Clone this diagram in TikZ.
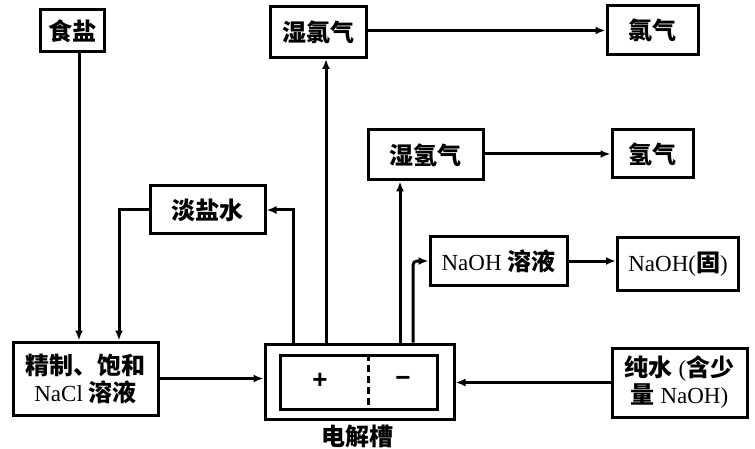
\documentclass[tikz,border=0pt]{standalone}
\usepackage{fontspec}
\setmainfont{Liberation Serif}
\newfontfamily\cjkfam{Noto Sans CJK SC}
\newfontfamily\signfam{Liberation Sans}
\newcommand\zhs[1]{{\cjkfam\bfseries\fontsize{24}{26}\selectfont #1}}
\usetikzlibrary{arrows.meta}
\begin{document}
\begin{tikzpicture}[x=1pt,y=-1pt,
  box/.style={draw, line width=3pt, inner sep=0pt, align=center, font=\fontsize{23}{27}\selectfont},
  ln/.style={line width=3pt},
  sign/.style={font=\signfam\bfseries\fontsize{26}{28}\selectfont},
  arr/.style={line width=3pt, -{Latex[length=10pt,width=8pt]}}]
\useasboundingbox (0,0) rectangle (755,449);
% nodes
\node[box, minimum width=64pt, minimum height=42pt] (sy) at (72,31) {\zhs{食盐}};
\node[box, minimum width=96pt, minimum height=51pt] (sl) at (318,32) {\zhs{湿氯气}};
\node[box, minimum width=91pt, minimum height=49pt] (lq) at (652.5,30.5) {\zhs{氯气}};
\node[box, minimum width=115pt, minimum height=50pt] (sq) at (425.5,155) {\zhs{湿氢气}};
\node[box, minimum width=81pt, minimum height=48pt] (qq) at (652.5,154) {\zhs{氢气}};
\node[box, minimum width=137pt, minimum height=48pt] (ns) at (498.5,261) {NaOH \zhs{溶液}};
\node[box, minimum width=121pt, minimum height=53pt] (ng) at (678,264) {NaOH(\zhs{固})};
\node[box, minimum width=115pt, minimum height=48pt] (dy) at (207.5,210) {\zhs{淡盐水}};
\node[box, minimum width=145pt, minimum height=73pt] (jz) at (85.5,378.5) {\zhs{精制、饱和}\\NaCl \zhs{溶液}};
\node[box, minimum width=189pt, minimum height=75pt] (cell) at (359.5,381.5) {};
\node[box, minimum width=157pt, minimum height=54pt] (inner) at (358.5,382) {};
\node[box, minimum width=135pt, minimum height=69pt] (cw) at (679.5,382.5) {\zhs{纯水} (\zhs{含少}\\\zhs{量} NaOH)};
\node[sign] (plus) at (320,381) {+};
\node[sign] (minus) at (403,381) {−};
\node (lbl) at (357,436) {\zhs{电解槽}};
\draw[ln, dash pattern=on 7pt off 4pt] (368,0 |- inner.north) -- (368,0 |- inner.south);
% connectors
\draw[arr] (79,0 |- sy.south) -- (79,0 |- jz.north);
\draw[arr] (dy.west) -| (119,0 |- jz.north);
\draw[arr] (293,0 |- cell.north) |- (dy.east);
\draw[arr] (326,0 |- cell.north) -- (326,0 |- sl.south);
\draw[arr] (400,0 |- cell.north) -- (400,0 |- sq.south);
\draw[arr, rounded corners=4pt] (413,0 |- cell.north) |- (ns.west);
\draw[arr] (sl.east |- lq.west) -- (lq.west);
\draw[arr] (sq.east |- qq.west) -- (qq.west);
\draw[arr] (ns.east) -- (ns.east -| ng.west);
\draw[arr] (jz.east) -- (jz.east -| cell.west);
\draw[arr] (cw.west) -- (cw.west -| cell.east);
\end{tikzpicture}
\end{document}
